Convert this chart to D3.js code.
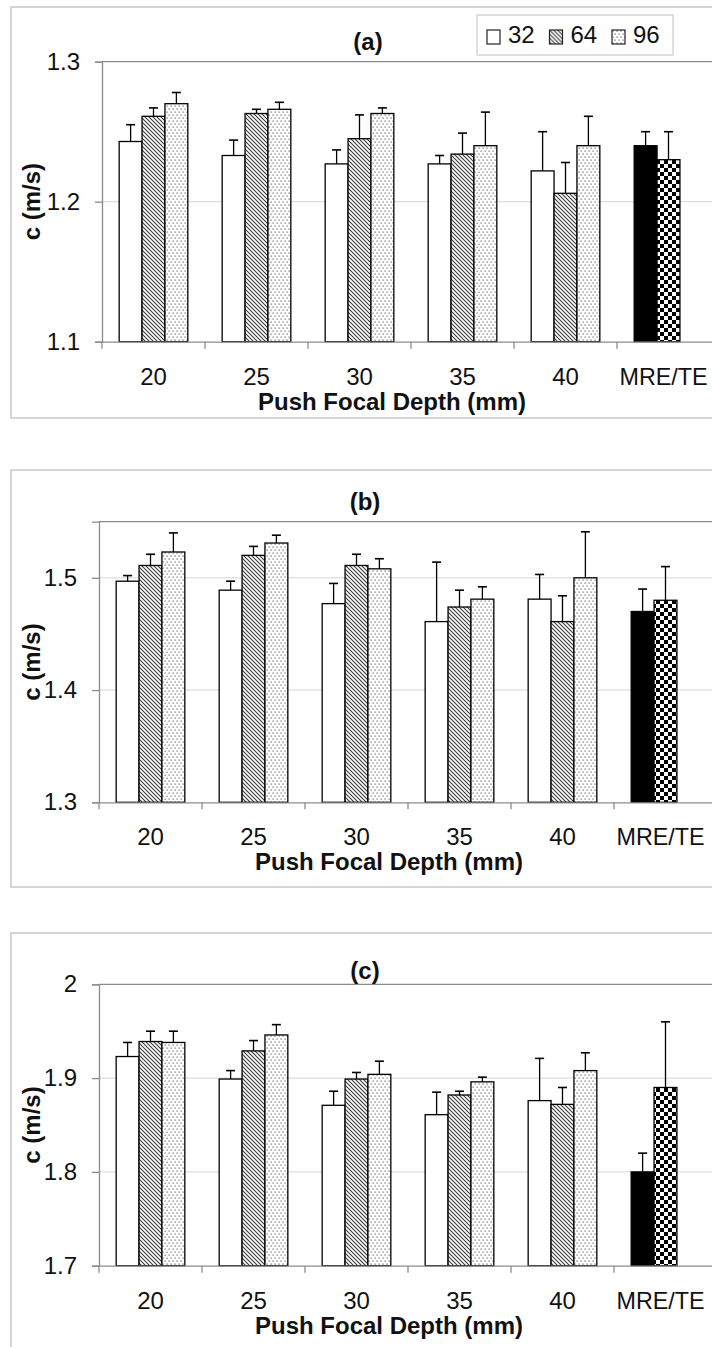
<!DOCTYPE html>
<html>
<head>
<meta charset="utf-8">
<script src="https://cdn.jsdelivr.net/npm/d3@7"></script>
<style>
    body { margin: 0; background: #fff; }
    svg { display: block; font-family: "Liberation Sans", Arial, sans-serif; }
</style>
</head>
<body>
<div id="chart"></div>
<script>
// Data

const categories = ["20", "25", "30", "35", "40", "MRE/TE"];
const seriesKeys = ["32", "64", "96"];

// panel (a)
const a32 = [1.243, 1.233, 1.227, 1.227, 1.222, 1.240];
const a32Err = [0.012, 0.011, 0.010, 0.006, 0.028, 0.010];
const a64 = [1.261, 1.263, 1.245, 1.234, 1.206, 1.230];
const a64Err = [0.006, 0.003, 0.017, 0.015, 0.022, 0.020];
const a96 = [1.270, 1.266, 1.263, 1.240, 1.240, null];
const a96Err = [0.008, 0.005, 0.004, 0.024, 0.021, null];
const aTicks = [1.1, 1.2, 1.3];

// panel (b)
const b32 = [1.497, 1.489, 1.477, 1.461, 1.481, 1.470];
const b32Err = [0.005, 0.008, 0.018, 0.053, 0.022, 0.020];
const b64 = [1.511, 1.520, 1.511, 1.474, 1.461, 1.480];
const b64Err = [0.010, 0.008, 0.010, 0.015, 0.023, 0.030];
const b96 = [1.523, 1.531, 1.508, 1.481, 1.500, null];
const b96Err = [0.017, 0.007, 0.009, 0.011, 0.041, null];
const bTicks = [1.3, 1.4, 1.5];

// panel (c)
const c32 = [1.923, 1.899, 1.871, 1.861, 1.876, 1.800];
const c32Err = [0.015, 0.009, 0.015, 0.024, 0.045, 0.020];
const c64 = [1.939, 1.929, 1.899, 1.882, 1.872, 1.890];
const c64Err = [0.011, 0.011, 0.007, 0.004, 0.018, 0.070];
const c96 = [1.938, 1.946, 1.904, 1.896, 1.908, null];
const c96Err = [0.012, 0.011, 0.014, 0.005, 0.019, null];
const cTicks = [1.7, 1.8, 1.9, 2.0];

const panels = [
    { label: "(a)", values: [a32, a64, a96], errs: [a32Err, a64Err, a96Err], domain: [1.1, 1.3], ticks: aTicks,
      frameTop: 7, frameBottom: 418, top: 61.7, bottom: 341.7, left: 102, titleY: 50 },
    { label: "(b)", values: [b32, b64, b96], errs: [b32Err, b64Err, b96Err], domain: [1.3, 1.55], ticks: bTicks,
      frameTop: 470, frameBottom: 887, top: 521.7, bottom: 802.3, left: 99, titleY: 510 },
    { label: "(c)", values: [c32, c64, c96], errs: [c32Err, c64Err, c96Err], domain: [1.7, 2.0], ticks: cTicks,
      frameTop: 933, frameBottom: 1400, top: 984.3, bottom: 1265.7, left: 99, titleY: 979 }
];

const width = 712, height = 1347;
const bandStep = 103;
const lineColor = "#8c8c8c";

const svg = d3.select("#chart")
    .append("svg")
    .attr("width", width)
    .attr("height", height);

// Patterns

const defs = svg.append("defs");

let hatch = defs.append("pattern")
    .attr("id", "hatch")
    .attr("patternUnits", "userSpaceOnUse")
    .attr("width", 4).attr("height", 4);
hatch.append("rect").attr("width", 4).attr("height", 4).attr("fill", "#fff");
hatch.append("path")
    .attr("d", "M-1,-1 L5,5 M-1,3 L1,5 M3,-1 L5,1")
    .attr("stroke", "#3a3a3a")
    .attr("stroke-width", 1.1);

let dots = defs.append("pattern")
    .attr("id", "dots")
    .attr("patternUnits", "userSpaceOnUse")
    .attr("width", 4).attr("height", 6);
dots.append("rect").attr("width", 4).attr("height", 6).attr("fill", "#fff");
dots.append("rect").attr("x", 0.5).attr("y", 0.5).attr("width", 1.2).attr("height", 1.2).attr("fill", "#666");
dots.append("rect").attr("x", 2.5).attr("y", 3.5).attr("width", 1.2).attr("height", 1.2).attr("fill", "#666");

let checker = defs.append("pattern")
    .attr("id", "checker")
    .attr("patternUnits", "userSpaceOnUse")
    .attr("width", 8).attr("height", 8);
checker.append("rect").attr("width", 8).attr("height", 8).attr("fill", "#fff");
checker.append("rect").attr("width", 4).attr("height", 4).attr("fill", "#000");
checker.append("rect").attr("x", 4).attr("y", 4).attr("width", 4).attr("height", 4).attr("fill", "#000");

const seriesFill = { "32": "#fff", "64": "url(#hatch)", "96": "url(#dots)" };
const refFill = { "32": "#000", "64": "url(#checker)" };   // MRE, TE

function fillFor(cat, key) {
    return cat === "MRE/TE" ? refFill[key] : seriesFill[key];
}

// Panels

panels.forEach(p => drawPanel(p));

function drawPanel(p) {
    let g = svg.append("g");

    // outer frame
    g.append("rect")
        .attr("x", 11).attr("y", p.frameTop)
        .attr("width", 740).attr("height", p.frameBottom - p.frameTop)
        .attr("fill", "none")
        .attr("stroke", "#c8c8c8")
        .attr("stroke-width", 1.5);

    let x = d3.scaleBand()
        .domain(categories)
        .range([p.left, p.left + bandStep * categories.length]);

    let x1 = d3.scaleBand()
        .domain(seriesKeys)
        .range([0, x.bandwidth()])
        .paddingOuter(0.75);

    let y = d3.scaleLinear()
        .domain(p.domain)
        .range([p.bottom, p.top]);

    // gridlines
    g.append("g")
        .selectAll("line")
        .data(p.ticks.filter(t => t > p.domain[0] && t < p.domain[1]))
        .join("line")
        .attr("x1", x.range()[0]).attr("x2", x.range()[1])
        .attr("y1", d => y(d)).attr("y2", d => y(d))
        .attr("stroke", "#d6d6d6")
        .attr("stroke-width", 1);

    // plot area top border
    g.append("line")
        .attr("x1", x.range()[0]).attr("x2", x.range()[1])
        .attr("y1", y.range()[1]).attr("y2", y.range()[1])
        .attr("stroke", lineColor)
        .attr("stroke-width", 1.3);

    // bars
    let rows = [];
    categories.forEach((cat, i) => {
        seriesKeys.forEach((key, j) => {
            let v = p.values[j][i];
            if (v != null) rows.push({ cat, key, value: v, err: p.errs[j][i] });
        });
    });

    g.append("g")
        .selectAll("rect")
        .data(rows)
        .join("rect")
        .attr("x", d => x(d.cat) + x1(d.key))
        .attr("y", d => y(d.value))
        .attr("width", x1.bandwidth())
        .attr("height", d => y(p.domain[0]) - y(d.value))
        .attr("fill", d => fillFor(d.cat, d.key))
        .attr("stroke", "#000")
        .attr("stroke-width", 1.3);

    // error bars (plus only)
    let eb = g.append("g")
        .selectAll("g")
        .data(rows)
        .join("g")
        .attr("transform", d => `translate(${x(d.cat) + x1(d.key) + x1.bandwidth() / 2},0)`);

    eb.append("line")
        .attr("y1", d => y(d.value))
        .attr("y2", d => y(d.value + d.err))
        .attr("stroke", "#000")
        .attr("stroke-width", 1.3);

    eb.append("line")
        .attr("x1", -4.5).attr("x2", 4.5)
        .attr("y1", d => y(d.value + d.err))
        .attr("y2", d => y(d.value + d.err))
        .attr("stroke", "#000")
        .attr("stroke-width", 1.6);

    // y axis
    let yAxis = g.append("g")
        .attr("transform", `translate(${p.left},0)`)
        .call(d3.axisLeft(y).tickValues(p.ticks).tickFormat(d3.format("~g")).tickSize(7).tickPadding(15));

    // x axis
    let xAxis = g.append("g")
        .attr("transform", `translate(0,${p.bottom})`)
        .call(d3.axisBottom(x).tickSize(0).tickPadding(26));

    [yAxis, xAxis].forEach(ax => {
        ax.select(".domain").attr("stroke", lineColor).attr("stroke-width", 1.3);
        ax.selectAll(".tick line").attr("stroke", lineColor).attr("stroke-width", 1.3);
        ax.selectAll(".tick text")
            .attr("fill", "#111")
            .style("font-size", "24px");
    });

    // the last label is nudged in so it stays inside the page
    xAxis.selectAll(".tick text")
        .filter(d => d === "MRE/TE")
        .attr("dx", -5)
        .attr("textLength", 88)
        .attr("lengthAdjust", "spacingAndGlyphs");

    // category boundary ticks
    g.append("g")
        .selectAll("line")
        .data(categories.map(c => x(c)).concat([x.range()[1]]))
        .join("line")
        .attr("x1", d => d).attr("x2", d => d)
        .attr("y1", p.bottom).attr("y2", p.bottom + 7)
        .attr("stroke", lineColor)
        .attr("stroke-width", 1.3);

    // titles
    g.append("text")
        .attr("x", p.left + 266)
        .attr("y", p.titleY)
        .attr("text-anchor", "middle")
        .style("font-size", "24px")
        .style("font-weight", "bold")
        .attr("fill", "#111")
        .text(p.label);

    g.append("text")
        .attr("x", p.left + 290)
        .attr("y", p.bottom + 68)
        .attr("text-anchor", "middle")
        .style("font-size", "24px")
        .style("font-weight", "bold")
        .attr("fill", "#111")
        .text("Push Focal Depth (mm)");

    g.append("text")
        .attr("transform", `translate(40,${(p.top + p.bottom) / 2}) rotate(-90)`)
        .attr("text-anchor", "middle")
        .style("font-size", "24px")
        .style("font-weight", "bold")
        .attr("fill", "#111")
        .text("c (m/s)");
}

// Legend

let legend = svg.append("g");

legend.append("rect")
    .attr("x", 477).attr("y", 15)
    .attr("width", 196).attr("height", 40)
    .attr("fill", "#fff")
    .attr("stroke", "#cfcfcf")
    .attr("stroke-width", 1.3);

let legendX = d3.scalePoint()
    .domain(seriesKeys)
    .range([487, 612]);

let item = legend.selectAll("g.item")
    .data(seriesKeys)
    .join("g")
    .attr("class", "item")
    .attr("transform", d => `translate(${legendX(d)},30)`);

item.append("rect")
    .attr("width", 13).attr("height", 14)
    .attr("fill", d => seriesFill[d])
    .attr("stroke", "#222")
    .attr("stroke-width", 1.2);

item.append("text")
    .attr("x", 21).attr("y", 13)
    .style("font-size", "24px")
    .attr("fill", "#111")
    .text(d => d);
</script>
</body>
</html>
